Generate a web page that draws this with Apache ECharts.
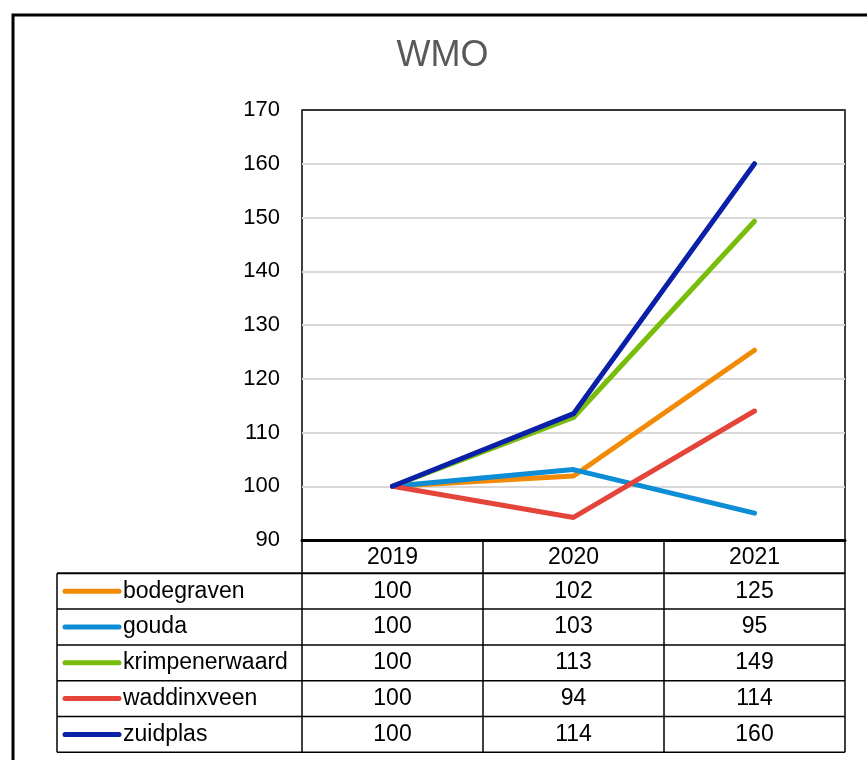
<!DOCTYPE html>
<html><head><meta charset="utf-8">
<script src="https://cdn.jsdelivr.net/npm/echarts@6/dist/echarts.min.js"></script>
<style>html,body{margin:0;padding:0;background:#fff}#c{width:867px;height:760px}</style>
</head><body><div id="c"></div>
<script>
const years = ['2019', '2020', '2021'];
const names = ['bodegraven', 'gouda', 'krimpenerwaard', 'waddinxveen', 'zuidplas'];
const colors = ['#F28A05', '#0C8DD6', '#78BC0C', '#E4443A', '#0B20A8'];
const bodegraven = [100, 101.9, 125.3];
const gouda = [100, 103.1, 95.0];
const krimpenerwaard = [100, 112.8, 149.3];
const waddinxveen = [100, 94.2, 114.0];
const zuidplas = [100, 113.5, 160.0];
const seriesData = [bodegraven, gouda, krimpenerwaard, waddinxveen, zuidplas];
const yTicks = [90, 100, 110, 120, 130, 140, 150, 160, 170];

const FONT = 'Liberation Sans, Arial, sans-serif';
const chart = echarts.init(document.getElementById('c'), null, {renderer: 'canvas'});
const gridTop = 110, gridBottom = 540, gridLeft = 302, gridRight = 845;
const rowH = 35.8, headerBottom = 573.3, legendLeft = 57;
const TFS = 23;

chart.setOption({
  animation: false,
  backgroundColor: '#fff',
  grid: {left: gridLeft, right: 867 - gridRight, top: gridTop, height: gridBottom - gridTop, show: true,
    borderColor: '#000', borderWidth: 1.5},
  xAxis: {type: 'category', data: years, boundaryGap: true,
    axisLine: {show: true, lineStyle: {color: '#000', width: 3}},
    axisTick: {show: false},
    axisLabel: {fontFamily: FONT, fontSize: TFS, color: '#000', margin: 6}},
  yAxis: {type: 'value', min: yTicks[0], max: yTicks[yTicks.length - 1], interval: 10,
    axisLine: {show: false}, axisTick: {show: false},
    axisLabel: {fontFamily: FONT, fontSize: 22, color: '#000', margin: 22},
    splitLine: {lineStyle: {color: '#d9d9d9', width: 2}}},
  series: names.map((n, i) => ({
    name: n, type: 'line', data: seriesData[i], symbol: 'none',
    lineStyle: {color: colors[i], width: 5, cap: 'round', join: 'round'},
    z: 2 + i
  }))
});

// Data table drawn from the same arrays, positioned by the x axis scale
const cx = years.map((y, i) => chart.convertToPixel({xAxisIndex: 0}, i));
const colW = cx.length > 1 ? cx[1] - cx[0] : (gridRight - gridLeft);
const bounds = [cx[0] - colW / 2].concat(cx.map(c => c + colW / 2));
const yTop = chart.convertToPixel({yAxisIndex: 0}, yTicks[yTicks.length - 1]);
const g = [];
// title
g.push({type: 'text', x: 442.5, y: 56, style: {text: 'WMO', font: '36px ' + FONT, fill: '#595959',
  textAlign: 'center', textVerticalAlign: 'middle'}, z: 11});
const line = (x1, y1, x2, y2, w) => g.push({type: 'line', shape: {x1, y1, x2, y2},
  style: {stroke: '#000', lineWidth: w || 1.5}, z: 10});
// plot top border above the gridline
line(bounds[0], yTop, bounds[bounds.length - 1], yTop, 1.5);
// vertical separators
bounds.forEach(b => line(b, gridBottom, b, headerBottom + rowH * names.length, 1.5));
line(legendLeft, headerBottom, legendLeft, headerBottom + rowH * names.length, 1.5);
// horizontal rows
for (let r = 0; r <= names.length; r++) {
  const y = headerBottom + r * rowH;
  line(legendLeft, y, bounds[bounds.length - 1], y, r === 0 ? 2 : 1.5);
}
names.forEach((n, r) => {
  const yc = headerBottom + r * rowH + rowH / 2;
  g.push({type: 'line', shape: {x1: 65, y1: yc, x2: 119, y2: yc},
    style: {stroke: colors[r], lineWidth: 5, lineCap: 'round'}, z: 11});
  g.push({type: 'text', x: 123, y: yc, style: {text: n, font: TFS + 'px ' + FONT, fill: '#000',
    textAlign: 'left', textVerticalAlign: 'middle'}, z: 11});
  seriesData[r].forEach((v, i) => {
    g.push({type: 'text', x: cx[i], y: yc, style: {text: String(Math.round(v)), font: TFS + 'px ' + FONT,
      fill: '#000', textAlign: 'center', textVerticalAlign: 'middle'}, z: 11});
  });
});
// outer chart border
g.push({type: 'rect', shape: {x: 13, y: 15, width: 900, height: 800},
  style: {fill: 'none', stroke: '#000', lineWidth: 3}, z: 12});
chart.setOption({graphic: g});
</script>
</body></html>
